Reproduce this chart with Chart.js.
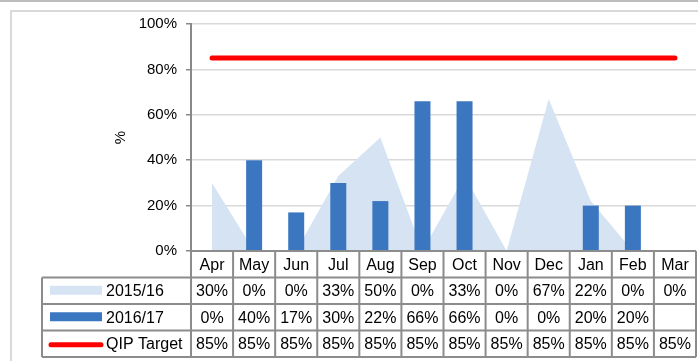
<!DOCTYPE html>
<html>
<head>
<meta charset="utf-8">
<script src="https://cdn.jsdelivr.net/npm/chart.js@4/dist/chart.umd.min.js"></script>
<style>
  html, body { margin: 0; padding: 0; background: #fff; }
  canvas { display: block; }
</style>
</head>
<body>
<canvas id="qipChart" width="698" height="361"></canvas>
<script>
// months and series
const months = ['Apr', 'May', 'Jun', 'Jul', 'Aug', 'Sep', 'Oct', 'Nov', 'Dec', 'Jan', 'Feb', 'Mar'];
const year1516 = [30, 0, 0, 33, 50, 0, 33, 0, 67, 22, 0, 0];
const year1617 = [0, 40, 17, 30, 22, 66, 66, 0, 0, 20, 20, null];
const qipTarget = [85, 85, 85, 85, 85, 85, 85, 85, 85, 85, 85, 85];
const yTicks = [0, 20, 40, 60, 80, 100];

const FONT = '"Liberation Sans", Arial, sans-serif';
const lightBlue = '#d5e3f3';
const darkBlue = '#3a77c0';
const red = '#ff0000';
const borderGray = '#8c8c8c';

// outer frame behind everything
const framePlugin = {
    id: 'frame',
    beforeDraw(chart) {
        const c = chart.ctx;
        c.save();
        c.fillStyle = '#fff';
        c.fillRect(0, 0, chart.width, chart.height);
        c.fillStyle = '#bdbdbd';
        c.fillRect(0, 0, chart.width, 2);
        c.strokeStyle = '#d9d9d9';
        c.lineWidth = 2;
        c.beginPath();
        c.moveTo(11, chart.height);
        c.lineTo(11, 11);
        c.lineTo(chart.width, 11);
        c.stroke();
        c.restore();
    }
};

// data table under the plot, columns follow the x scale
const tablePlugin = {
    id: 'dataTable',
    afterDraw(chart) {
        const c = chart.ctx;
        const x = chart.scales.x;
        const area = chart.chartArea;
        const half = (x.getPixelForValue(1) - x.getPixelForValue(0)) / 2;
        const left = x.getPixelForValue(0) - half;
        const right = x.getPixelForValue(months.length - 1) + half;
        const legendLeft = 42;
        const top = area.bottom;
        const rowH = 26.5;
        const rows = [
            { label: '2015/16', values: year1516, key: 'area' },
            { label: '2016/17', values: year1617, key: 'bar' },
            { label: 'QIP Target', values: qipTarget, key: 'line' }
        ];

        c.save();
        c.font = '16px ' + FONT;
        c.fillStyle = '#000';
        c.textAlign = 'center';
        c.textBaseline = 'middle';

        // header row with month names
        months.forEach((m, i) => {
            c.fillText(m, x.getPixelForValue(i), top + rowH / 2 + 1);
        });

        rows.forEach((r, ri) => {
            const y = top + rowH * (ri + 1);
            r.values.forEach((v, i) => {
                if (v === null) return;
                c.fillText(v + '%', x.getPixelForValue(i), y + rowH / 2 + 1);
            });
            // legend key
            const ky = y + rowH / 2;
            if (r.key === 'area') {
                c.fillStyle = lightBlue;
                c.fillRect(50, ky - 5, 52, 9);
            } else if (r.key === 'bar') {
                c.fillStyle = darkBlue;
                c.fillRect(50, ky - 5, 52, 9);
            } else {
                c.strokeStyle = red;
                c.lineWidth = 5;
                c.lineCap = 'round';
                c.beginPath();
                c.moveTo(51, ky + 1);
                c.lineTo(101, ky + 1);
                c.stroke();
            }
            c.fillStyle = '#000';
            c.textAlign = 'left';
            c.fillText(r.label, 106, y + rowH / 2 + 1);
            c.textAlign = 'center';
        });

        // grid lines of the table
        c.strokeStyle = borderGray;
        c.lineWidth = 2;
        c.lineCap = 'butt';
        c.beginPath();
        const bottom = top + rowH * 4;
        for (let r = 0; r <= 4; r++) {
            const y = top + rowH * r;
            c.moveTo(r === 0 ? left : legendLeft, y);
            c.lineTo(right, y);
        }
        for (let i = 0; i <= months.length; i++) {
            const xx = left + half * 2 * i;
            c.moveTo(xx, top);
            c.lineTo(xx, bottom);
        }
        c.moveTo(legendLeft, top + rowH);
        c.lineTo(legendLeft, bottom);
        c.stroke();
        c.restore();
    }
};

const ctx = document.getElementById('qipChart').getContext('2d');
const qipChart = new Chart(ctx, {
    type: 'bar',
    data: {
        labels: months,
        datasets: [
            {
                type: 'line',
                label: '2015/16',
                data: year1516,
                backgroundColor: lightBlue,
                borderWidth: 0,
                pointRadius: 0,
                tension: 0,
                fill: 'origin',
                order: 3
            },
            {
                type: 'bar',
                label: '2016/17',
                data: year1617,
                backgroundColor: darkBlue,
                barPercentage: 0.38,
                categoryPercentage: 1,
                order: 2
            },
            {
                type: 'line',
                label: 'QIP Target',
                data: qipTarget,
                borderColor: red,
                borderWidth: 5,
                borderCapStyle: 'round',
                pointRadius: 0,
                fill: false,
                order: 1
            }
        ]
    },
    options: {
        responsive: false,
        animation: false,
        devicePixelRatio: 1,
        layout: { padding: { top: 24, right: 2, bottom: 110, left: 0 } },
        plugins: {
            legend: { display: false },
            tooltip: { enabled: false }
        },
        scales: {
            x: {
                display: false,
                offset: true
            },
            y: {
                min: 0,
                max: 100,
                afterBuildTicks(scale) {
                    scale.ticks = yTicks.map(v => ({ value: v }));
                },
                afterFit(scale) {
                    scale.width = 191;
                },
                ticks: {
                    callback: v => v + '%',
                    color: '#000',
                    padding: 9,
                    font: { family: FONT, size: 15 }
                },
                grid: {
                    color: '#d9d9d9',
                    lineWidth: 1.5,
                    tickColor: '#888',
                    tickLength: 5
                },
                border: { color: '#888', width: 2 },
                title: {
                    display: true,
                    text: '%',
                    color: '#000',
                    font: { family: FONT, size: 15 },
                    padding: { top: 112, bottom: 0 }
                }
            }
        }
    },
    plugins: [framePlugin, tablePlugin]
});
</script>
</body>
</html>
